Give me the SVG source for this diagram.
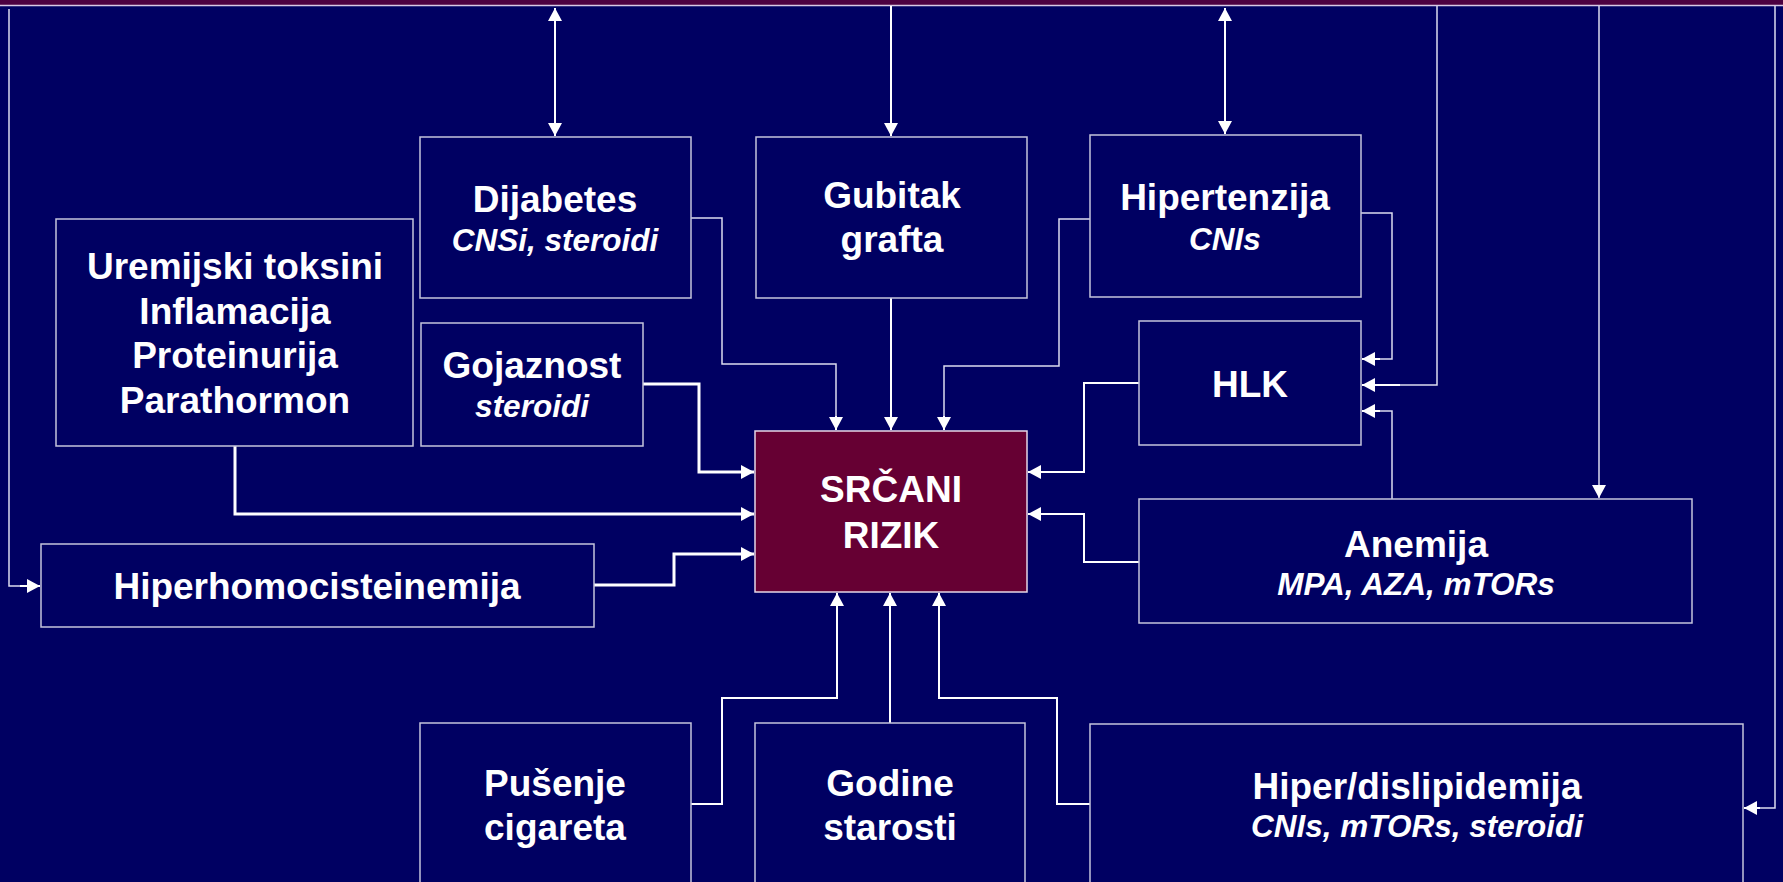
<svg xmlns="http://www.w3.org/2000/svg" width="1783" height="882" viewBox="0 0 1783 882">
  <style>
    .box { fill: #000062; stroke: #c4c4dc; stroke-width: 1.5; }
    .core { fill: #660033; stroke: #e6d6e6; stroke-width: 1.5; }
    .t { font-family: "Liberation Sans", Arial, sans-serif; font-weight: bold; font-size: 37px; fill: #ffffff; text-anchor: middle; }
    .i { font-family: "Liberation Sans", Arial, sans-serif; font-weight: bold; font-style: italic; font-size: 31.5px; fill: #ffffff; text-anchor: middle; }
    .c { fill: none; stroke: #ffffff; stroke-width: 2; }
    .thick { stroke-width: 3; }
    .thin { stroke: #dcdcf0; stroke-width: 1.5; }
  </style>
  <defs>
    <marker id="ah" viewBox="0 0 13 14" refX="13" refY="7" markerWidth="13" markerHeight="14" markerUnits="userSpaceOnUse" orient="auto-start-reverse">
      <path d="M0,0 L13,7 L0,14 z" fill="#ffffff"/>
    </marker>
  </defs>

  <!-- background and top band -->
  <rect x="0" y="0" width="1783" height="882" fill="#000062"/>
  <rect x="0" y="0" width="1783" height="5" fill="#4c0040"/>
  <line x1="0" y1="5.5" x2="1783" y2="5.5" stroke="#d8c8e4" stroke-width="1.5"/>

  <!-- connectors -->
  <g id="connectors">
    <!-- feedback lines from the top -->
    <path class="c" d="M555,8 V136" marker-start="url(#ah)" marker-end="url(#ah)"/>
    <path class="c" d="M1225,8 V134" marker-start="url(#ah)" marker-end="url(#ah)"/>
    <path class="c" d="M891,6 V136" marker-end="url(#ah)"/>
    <path class="c thin" d="M9,9 V586 H20"/>
    <path class="c" d="M20,586 H40" marker-end="url(#ah)"/>
    <path class="c thin" d="M1437,6 V385 H1400"/>
    <path class="c" d="M1400,385 H1362" marker-end="url(#ah)"/>
    <path class="c thin" d="M1599,6 V498" marker-end="url(#ah)"/>
    <path class="c thin" d="M1775,6 V808 H1760"/>
    <path class="c" d="M1760,808 H1744" marker-end="url(#ah)"/>

    <!-- into HLK -->
    <path class="c thin" d="M1361,213 H1392 V359 H1380"/>
    <path class="c" d="M1380,359 H1362" marker-end="url(#ah)"/>
    <path class="c thin" d="M1392,499 V411 H1380"/>
    <path class="c" d="M1380,411 H1362" marker-end="url(#ah)"/>

    <!-- into SRČANI RIZIK -->
    <path class="c thin" d="M691,218 H722 V364 H836 V420"/>
    <path class="c" d="M836,416 V430" marker-end="url(#ah)"/>
    <path class="c" d="M891,298 V430" marker-end="url(#ah)"/>
    <path class="c thin" d="M1090,219 H1059 V366 H944 V420"/>
    <path class="c" d="M944,416 V430" marker-end="url(#ah)"/>
    <path class="c thick" d="M643,384 H699 V472 H754" marker-end="url(#ah)"/>
    <path class="c thick" d="M235,446 V514 H754" marker-end="url(#ah)"/>
    <path class="c thick" d="M594,585 H674 V554 H754" marker-end="url(#ah)"/>
    <path class="c" d="M1139,383 H1084 V472 H1028" marker-end="url(#ah)"/>
    <path class="c" d="M1139,562 H1084 V514 H1028" marker-end="url(#ah)"/>
    <path class="c" d="M691,804 H722 V698 H837 V593" marker-end="url(#ah)"/>
    <path class="c" d="M890,723 V593" marker-end="url(#ah)"/>
    <path class="c" d="M1090,804 H1057 V698 H939 V593" marker-end="url(#ah)"/>
  </g>

  <!-- nodes -->
  <g id="dijabetes">
    <rect class="box" x="420" y="137" width="271" height="161"/>
    <text class="t" x="555" y="212">Dijabetes</text>
    <text class="i" x="555" y="251">CNSi, steroidi</text>
  </g>
  <g id="gubitak-grafta">
    <rect class="box" x="756" y="137" width="271" height="161"/>
    <text class="t" x="892" y="208">Gubitak</text>
    <text class="t" x="892" y="252">grafta</text>
  </g>
  <g id="hipertenzija">
    <rect class="box" x="1090" y="135" width="271" height="162"/>
    <text class="t" x="1225" y="210">Hipertenzija</text>
    <text class="i" x="1225" y="250">CNIs</text>
  </g>
  <g id="uremijski">
    <rect class="box" x="56" y="219" width="357" height="227"/>
    <text class="t" x="235" y="279">Uremijski toksini</text>
    <text class="t" x="235" y="323.5">Inflamacija</text>
    <text class="t" x="235" y="368">Proteinurija</text>
    <text class="t" x="235" y="413">Parathormon</text>
  </g>
  <g id="gojaznost">
    <rect class="box" x="421" y="323" width="222" height="123"/>
    <text class="t" x="532" y="378">Gojaznost</text>
    <text class="i" x="532" y="417">steroidi</text>
  </g>
  <g id="hlk">
    <rect class="box" x="1139" y="321" width="222" height="124"/>
    <text class="t" x="1250" y="397">HLK</text>
  </g>
  <g id="srcani-rizik">
    <rect class="core" x="755" y="431" width="272" height="161"/>
    <text class="t" x="891" y="502">SRČANI</text>
    <text class="t" x="891" y="548">RIZIK</text>
  </g>
  <g id="anemija">
    <rect class="box" x="1139" y="499" width="553" height="124"/>
    <text class="t" x="1416" y="557">Anemija</text>
    <text class="i" x="1416" y="595">MPA, AZA, mTORs</text>
  </g>
  <g id="hiperhomocisteinemija">
    <rect class="box" x="41" y="544" width="553" height="83"/>
    <text class="t" x="317" y="599">Hiperhomocisteinemija</text>
  </g>
  <g id="pusenje">
    <rect class="box" x="420" y="723" width="271" height="180"/>
    <text class="t" x="555" y="796">Pušenje</text>
    <text class="t" x="555" y="840">cigareta</text>
  </g>
  <g id="godine">
    <rect class="box" x="755" y="723" width="270" height="180"/>
    <text class="t" x="890" y="796">Godine</text>
    <text class="t" x="890" y="840">starosti</text>
  </g>
  <g id="dislipidemija">
    <rect class="box" x="1090" y="724" width="653" height="180"/>
    <text class="t" x="1417" y="799">Hiper/dislipidemija</text>
    <text class="i" x="1417" y="837">CNIs, mTORs, steroidi</text>
  </g>
</svg>
